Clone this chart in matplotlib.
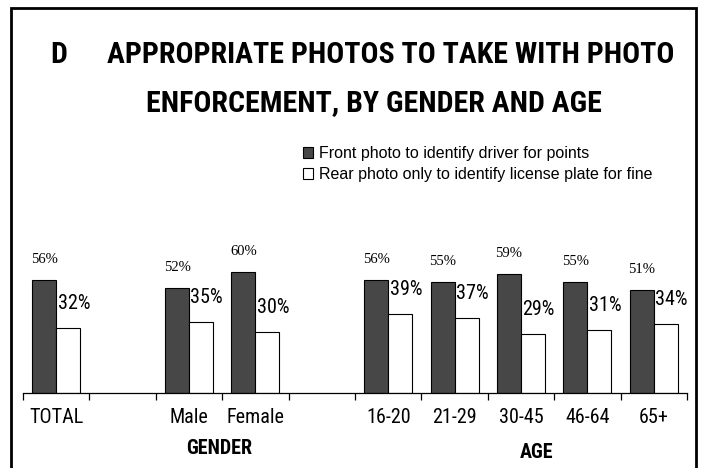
import matplotlib
matplotlib.use('Agg')
import matplotlib.pyplot as plt
from matplotlib.patches import Rectangle, Patch

# data
categories = ['TOTAL', '', 'Male', 'Female', '', '16-20', '21-29', '30-45', '46-64', '65+']
front = [56, None, 52, 60, None, 56, 55, 59, 55, 51]
rear = [32, None, 35, 30, None, 39, 37, 29, 31, 34]
series_names = ['Front photo to identify driver for points',
                'Rear photo only to identify license plate for fine']
groups = ['GENDER', 'AGE']

narrow = ['Roboto Condensed', 'Liberation Sans', 'DejaVu Sans']

W, H = 702, 468
fig = plt.figure(figsize=(W / 100, H / 100), dpi=100)

# axes placed in pixel terms: baseline at y=393, x from 23 to 687
ax = fig.add_axes([23 / W, (H - 393) / H, 664 / W, 161.6 / H])
ax.set_xlim(-0.5, 9.5)
ax.set_ylim(0, 80)

bw = 0.361
dark = '#474747'
for i, (f, r) in enumerate(zip(front, rear)):
    if f is None:
        continue
    ax.bar(i - bw / 2, f, bw, color=dark, edgecolor='black', linewidth=0.8)
    ax.bar(i + bw / 2, r, bw, color='white', edgecolor='black', linewidth=0.8)
    ax.text(i - bw / 2, f + 9.9, f'{f}%', ha='center', va='center',
            family='Liberation Serif', fontsize=10.5)
    ax.text(i + 0.02, r + 12.4, f'{r}%', ha='left', va='center',
            family=narrow, fontsize=14.5)

for s in ['top', 'left', 'right']:
    ax.spines[s].set_visible(False)
ax.spines['bottom'].set_linewidth(0.9)
ax.set_yticks([])
ax.set_xticks(range(len(categories)))
ax.set_xticklabels(categories, family=narrow, fontsize=14.5)
ax.tick_params(axis='x', which='major', length=0, pad=11)
ax.set_xticks([x - 0.5 for x in range(len(categories) + 1)], minor=True)
ax.tick_params(axis='x', which='minor', length=5, width=0.9, direction='out')

# group labels
fig.text(219 / W, 1 - 449 / H, groups[0], ha='center', va='center',
         family=narrow, fontweight='bold', fontsize=14.5)
fig.text(537 / W, 1 - 452 / H, groups[1], ha='center', va='center',
         family=narrow, fontweight='bold', fontsize=14.5)

# title
fig.text(50 / W, 1 - 55 / H, 'D', ha='left', va='center',
         family=narrow, fontweight='bold', fontsize=21.5)
fig.text(390.5 / W, 1 - 55 / H, 'APPROPRIATE PHOTOS TO TAKE WITH PHOTO',
         ha='center', va='center', family=narrow, fontweight='bold', fontsize=21.5)
fig.text(374 / W, 1 - 103 / H, 'ENFORCEMENT, BY GENDER AND AGE',
         ha='center', va='center', family=narrow, fontweight='bold', fontsize=21.5)

# legend
handles = [Patch(facecolor=dark, edgecolor='black', linewidth=0.8),
           Patch(facecolor='white', edgecolor='black', linewidth=0.8)]
fig.legend(handles, series_names, loc='upper left', bbox_to_anchor=(303 / W, 1 - 146 / H),
           frameon=False, handlelength=0.65, handleheight=0.65, handletextpad=0.35,
           labelspacing=0.4, borderpad=0, borderaxespad=0,
           prop={'family': 'Liberation Sans', 'size': 11.5})

# frame around the figure
fig.patches.append(Rectangle((11 / W, -0.05), 685 / W, 1.05 - 8 / H, transform=fig.transFigure,
                             fill=False, edgecolor='black', linewidth=2))

fig.savefig('out.png', dpi=100)
